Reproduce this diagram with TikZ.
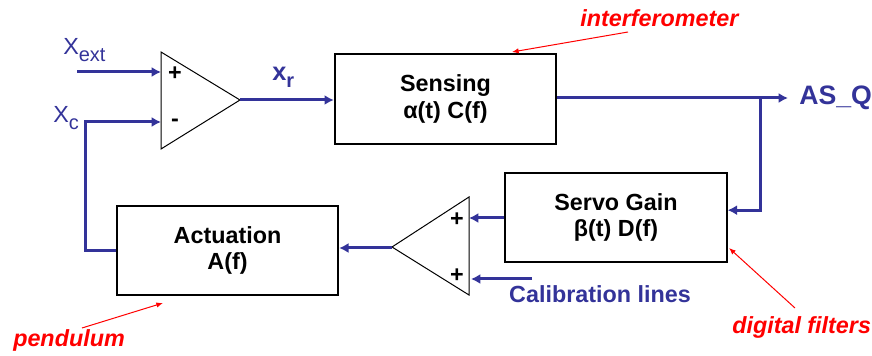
\documentclass[tikz,border=0pt]{standalone}
\usepackage{fontspec}
\setmainfont{Liberation Sans}
\usetikzlibrary{arrows.meta}
\definecolor{sigblue}{RGB}{51,51,153}

\newcommand{\lowsub}[1]{\raisebox{-5pt}{\fontsize{15}{15}\selectfont #1}}

\tikzset{
  block/.style={draw, line width=1.5pt, minimum width=166pt, minimum height=67pt,
    align=center, font=\bfseries\fontsize{17.5}{20}\selectfont},
  sig/.style={draw=sigblue, line width=2.25pt, -{Latex[length=7pt,width=7.5pt]}},
  summer/.style={line width=0.75pt},
  sign/.style={inner sep=0pt, font=\bfseries\fontsize{17.5}{20}\selectfont},
  lbl/.style={sigblue, inner sep=0pt, font=\fontsize{17.5}{20}\selectfont},
  note/.style={red, inner sep=0pt, font=\bfseries\itshape\fontsize{17.5}{20}\selectfont},
  pointer/.style={red, line width=0.75pt, -{Latex[length=5pt,width=4pt]}},
}

\begin{document}
\begin{tikzpicture}[x=0.75pt,y=-0.75pt]
\useasboundingbox (0,0) rectangle (872,356);

% blocks
\node[block] (sens) at (445.5,99) {Sensing\\α(t) C(f)};
\node[block] (servo) at (616,217.5) {Servo Gain\\β(t) D(f)};
\node[block] (act) at (227.5,250.5) {Actuation\\A(f)};

% first summing junction
\draw[summer] (161,52) -- (161,149) -- (240,100) -- cycle;
\coordinate (sumAp) at (161,72);
\coordinate (sumAm) at (161,122);
\coordinate (sumAout) at (240,100);
\node[sign] (plusA) at (175,74) {+};
\node[sign] (minusA) at (175,123) {-};

% second summing junction
\draw[summer] (469,197) -- (469,295) -- (392,247) -- cycle;
\coordinate (sumBa) at (469,218);
\coordinate (sumBb) at (471,279);
\coordinate (sumBout) at (392,248);
\node[sign] (plusB1) at (457,220) {+};
\node[sign] (plusB2) at (457,276) {+};

% inputs
\coordinate (xext) at (77,72);
\coordinate (xc) at (85,122);
\node[lbl, anchor=base west] (xextlbl) at (63,55) {X\lowsub{ext}};
\node[lbl, anchor=base west] (xclbl) at (53,123) {X\lowsub{c}};
\draw[sig] (xext) -- (sumAp);
\draw[sig] (act.west) -| (xc) -- (sumAm);

% forward path
\draw[sig] (sumAout) -- (sumAout -| sens.west);
\node[lbl, anchor=base west, font=\bfseries\fontsize{19}{20}\selectfont] (xrlbl) at (272,81) {x\lowsub{r}};
\coordinate (asq) at (788,98);
\coordinate (tap) at (760,98);
\draw[sig] (sens.east |- asq) -- (asq);
\node[lbl, anchor=west, font=\bfseries\fontsize{20}{20}\selectfont] (asqlbl) at (799,98) {AS\_Q};

% feedback path
\draw[sig] (tap) |- ([yshift=5.5pt]servo.east);
\draw[sig] (servo.west |- sumBa) -- (sumBa);
\coordinate (calin) at (532,279);
\draw[sig] (calin) -- (sumBb);
\node[lbl, font=\bfseries\fontsize{17.5}{20}\selectfont] (callbl) at (600,294) {Calibration lines};
\draw[sig] (sumBout) -- (sumBout -| act.east);

% annotations
\node[note, anchor=base west] (ifo) at (580,27) {interferometer};
\node[note, anchor=base west] (dig) at (732,334) {digital filters};
\node[note, anchor=base west] (pend) at (13,346) {pendulum};
\coordinate (ifotail) at (628,32);
\coordinate (digtail) at (795,308);
\coordinate (pendtail) at (82,328);
\draw[pointer] (ifotail) -- (512,52);
\draw[pointer] (digtail) -- (729,248);
\draw[pointer] (pendtail) -- (163,303);
\end{tikzpicture}
\end{document}
